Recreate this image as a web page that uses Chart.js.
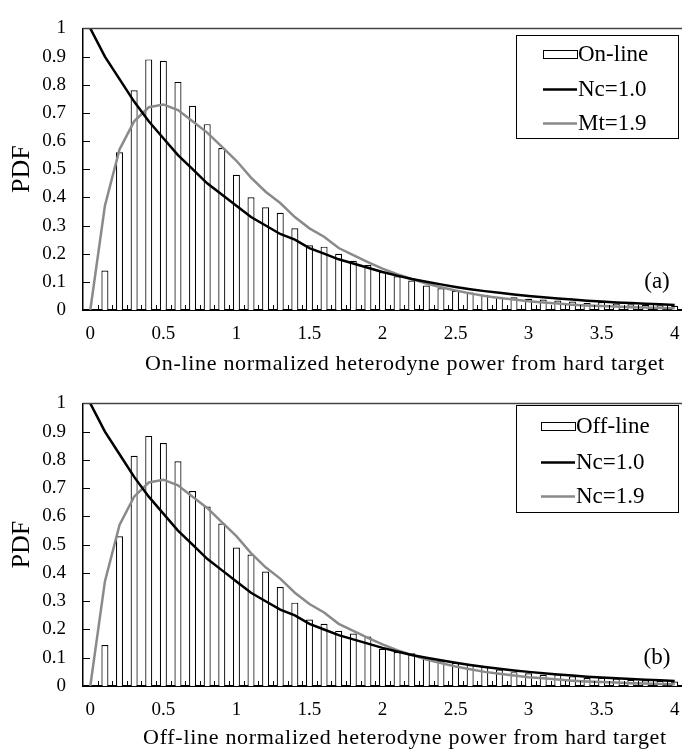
<!DOCTYPE html>
<html>
<head>
<meta charset="utf-8">
<script src="https://cdn.jsdelivr.net/npm/chart.js@4.4.1/dist/chart.umd.min.js"></script>
<style>
    body { margin: 0; background: #fff; }
    .panel { position: relative; width: 682px; }
    #panel-a { height: 375px; }
    #panel-b { height: 376px; }
</style>
</head>
<body>
<div class="panel" id="panel-a"><canvas id="chart-a"></canvas></div>
<div class="panel" id="panel-b"><canvas id="chart-b"></canvas></div>
<script>
// normalized power bins, 0 .. 4 in steps of 0.1
const powerBins = ['0', '0.1', '0.2', '0.3', '0.4', '0.5', '0.6', '0.7', '0.8', '0.9',
    '1', '1.1', '1.2', '1.3', '1.4', '1.5', '1.6', '1.7', '1.8', '1.9',
    '2', '2.1', '2.2', '2.3', '2.4', '2.5', '2.6', '2.7', '2.8', '2.9',
    '3', '3.1', '3.2', '3.3', '3.4', '3.5', '3.6', '3.7', '3.8', '3.9', '4'];
const xTickLabels = ['0', '0.5', '1', '1.5', '2', '2.5', '3', '3.5', '4'];

// measured histograms
const onlinePdf = [0, 0.14, 0.56, 0.78, 0.89, 0.885, 0.81, 0.725, 0.66, 0.575,
    0.48, 0.40, 0.365, 0.345, 0.29, 0.23, 0.225, 0.20, 0.175, 0.16,
    0.135, 0.12, 0.105, 0.087, 0.077, 0.068, 0.062, 0.054, 0.047, 0.045,
    0.04, 0.037, 0.034, 0.03, 0.025, 0.028, 0.023, 0.02, 0.018, 0.017, 0.015];
const offlinePdf = [0, 0.145, 0.53, 0.815, 0.885, 0.86, 0.795, 0.69, 0.635, 0.575,
    0.49, 0.465, 0.405, 0.35, 0.295, 0.235, 0.22, 0.195, 0.186, 0.175,
    0.132, 0.12, 0.116, 0.103, 0.09, 0.082, 0.075, 0.068, 0.058, 0.049,
    0.045, 0.04, 0.041, 0.034, 0.028, 0.029, 0.026, 0.022, 0.02, 0.018, 0.016];

// model curves
const nc10Curve = [1.00, 0.90, 0.82, 0.74, 0.67, 0.61, 0.55, 0.50, 0.45, 0.41,
    0.37, 0.33, 0.30, 0.27, 0.25, 0.22, 0.20, 0.18, 0.165, 0.15,
    0.135, 0.122, 0.11, 0.10, 0.091, 0.082, 0.074, 0.067, 0.061, 0.055,
    0.050, 0.045, 0.041, 0.037, 0.033, 0.030, 0.027, 0.025, 0.022, 0.020, 0.018];
const nc19Curve = [0, 0.37, 0.57, 0.67, 0.72, 0.73, 0.71, 0.67, 0.63, 0.58,
    0.53, 0.47, 0.42, 0.38, 0.33, 0.29, 0.26, 0.22, 0.195, 0.17,
    0.147, 0.127, 0.11, 0.094, 0.081, 0.069, 0.059, 0.050, 0.043, 0.037,
    0.031, 0.027, 0.023, 0.019, 0.016, 0.014, 0.012, 0.010, 0.0085, 0.0072, 0.006];

const serif = 'Liberation Serif';

// inward tick marks and the top frame line
const innerTicks = {
    id: 'innerTicks',
    afterDatasetsDraw(chart) {
        const ctx = chart.ctx;
        const a = chart.chartArea;
        const x = chart.scales.x;
        const y = chart.scales.y;
        ctx.save();
        ctx.strokeStyle = '#000';
        ctx.lineWidth = 1;
        ctx.beginPath();
        y.ticks.forEach(function (t, i) {
            const py = Math.round(y.getPixelForTick(i)) + 0.5;
            ctx.moveTo(a.left, py);
            ctx.lineTo(a.left + 7, py);
        });
        for (let i = 1; i <= powerBins.length; i++) {
            const px = Math.round(x.getPixelForValue(i - 0.5)) + 0.5;
            ctx.moveTo(px, a.bottom);
            ctx.lineTo(px, a.bottom - 5);
        }
        ctx.stroke();
        ctx.strokeStyle = '#444';
        ctx.lineWidth = 1.5;
        ctx.beginPath();
        ctx.moveTo(a.left, a.top);
        ctx.lineTo(a.right, a.top);
        ctx.stroke();
        ctx.restore();
    }
};

// boxed legend inside the plot, panel tag and the x axis caption
const boxLegend = {
    id: 'boxLegend',
    afterDraw(chart, args, opts) {
        const ctx = chart.ctx;
        const a = chart.chartArea;
        const left = a.right - opts.right - opts.width;
        const top = a.top + opts.top;
        ctx.save();
        ctx.fillStyle = '#fff';
        ctx.fillRect(left, top, opts.width, opts.height);
        ctx.strokeStyle = '#000';
        ctx.lineWidth = 1;
        ctx.strokeRect(Math.round(left) + 0.5, Math.round(top) + 0.5, opts.width, opts.height);
        ctx.font = opts.fontSize + 'px "' + serif + '"';
        ctx.textBaseline = 'middle';
        ctx.textAlign = 'left';
        chart.data.datasets.forEach(function (ds, i) {
            const cy = top + opts.rows[i];
            const sx = left + opts.symbolLeft;
            if (ds.type === 'bar') {
                ctx.fillStyle = '#fff';
                ctx.fillRect(sx, cy - 4, opts.symbolWidth, 8);
                ctx.strokeStyle = '#000';
                ctx.lineWidth = 1;
                ctx.strokeRect(Math.round(sx) + 0.5, Math.round(cy - 4) + 0.5, opts.symbolWidth, 8);
            } else {
                ctx.strokeStyle = ds.borderColor;
                ctx.lineWidth = ds.borderWidth;
                ctx.beginPath();
                ctx.moveTo(sx, cy);
                ctx.lineTo(sx + opts.symbolWidth, cy);
                ctx.stroke();
            }
            ctx.fillStyle = '#000';
            ctx.fillText(ds.label, sx + opts.symbolWidth + 1, cy + 1);
        });
        ctx.textAlign = 'center';
        ctx.fillText(opts.tag, a.right - 25, a.bottom - 28);

        // axis caption, a bit right of the plot centre
        ctx.font = '22px "' + serif + '"';
        ctx.letterSpacing = '0.7px';
        ctx.fillText(opts.caption, a.left + 322, chart.height - opts.captionBottom);
        ctx.restore();
    }
};

function makeChart(canvasId, cfg) {
    const ctx = document.getElementById(canvasId).getContext('2d');
    return new Chart(ctx, {
        data: {
            labels: powerBins,
            datasets: [{
                type: 'bar',
                label: cfg.barLabel,
                data: cfg.bars,
                backgroundColor: '#fff',
                borderColor: '#000',
                borderWidth: 1.2,
                barPercentage: 0.48,
                categoryPercentage: 1,
                order: 3
            }, {
                type: 'line',
                label: 'Nc=1.0',
                data: nc10Curve,
                borderColor: '#000',
                borderWidth: 2.5,
                pointRadius: 0,
                tension: 0,
                fill: false,
                order: 1
            }, {
                type: 'line',
                label: cfg.modelLabel,
                data: nc19Curve,
                borderColor: '#8a8a8a',
                borderWidth: 2.5,
                pointRadius: 0,
                tension: 0,
                fill: false,
                order: 2
            }]
        },
        options: {
            responsive: true,
            maintainAspectRatio: false,
            animation: false,
            layout: { padding: { top: 15, right: 0, left: 0, bottom: 0 } },
            plugins: {
                legend: { display: false },
                tooltip: { enabled: false },
                boxLegend: cfg.legend
            },
            scales: {
                x: {
                    type: 'category',
                    offset: true,
                    grid: { display: false, drawTicks: false },
                    border: { display: true, color: '#000', width: 2 },
                    ticks: {
                        autoSkip: false,
                        maxRotation: 0,
                        minRotation: 0,
                        padding: 13,
                        color: '#000',
                        font: { family: serif, size: 19 },
                        callback: function (value) {
                            const label = this.getLabelForValue(value);
                            return xTickLabels.includes(label) ? label : '';
                        }
                    },
                    afterFit: function (scale) {
                        scale.height = 65;
                        scale.paddingLeft = 0;
                        scale.paddingRight = 0;
                    }
                },
                y: {
                    min: 0,
                    max: 1,
                    grid: { display: false, drawTicks: false },
                    border: { display: true, color: '#000', width: 1.5 },
                    ticks: {
                        stepSize: 0.1,
                        padding: 17,
                        color: '#000',
                        font: { family: serif, size: 19 },
                        callback: function (value) { return String(Number(value.toFixed(1))); }
                    },
                    title: {
                        display: true,
                        text: 'PDF',
                        color: '#000',
                        font: { family: serif, size: 26 },
                        padding: { top: 7, bottom: 0 }
                    },
                    afterFit: function (scale) { scale.width = 83; }
                }
            }
        },
        plugins: [innerTicks, boxLegend]
    });
}

makeChart('chart-a', {
    bars: onlinePdf,
    barLabel: 'On-line',
    modelLabel: 'Mt=1.9',
    legend: {
        tag: '(a)', right: 4, top: 7, width: 162, height: 103, fontSize: 23,
        rows: [19, 54, 88], symbolLeft: 27, symbolWidth: 34,
        caption: 'On-line normalized heterodyne power from hard target', captionBottom: 11
    }
});

makeChart('chart-b', {
    bars: offlinePdf,
    barLabel: 'Off-line',
    modelLabel: 'Nc=1.9',
    legend: {
        tag: '(b)', right: 4, top: 2, width: 162, height: 107, fontSize: 23,
        rows: [21, 57, 91], symbolLeft: 25, symbolWidth: 34,
        caption: 'Off-line normalized heterodyne power from hard target', captionBottom: 13
    }
});
</script>
</body>
</html>
